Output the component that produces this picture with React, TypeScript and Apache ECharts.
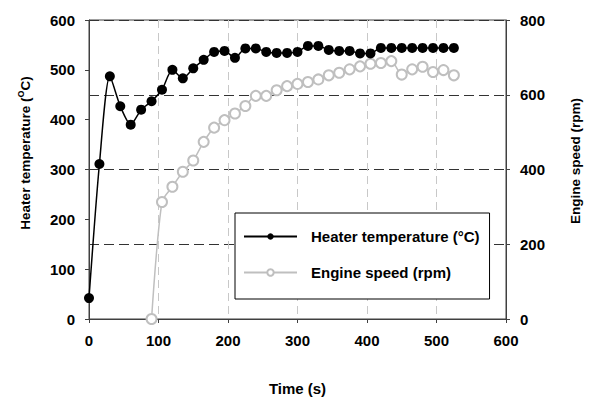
import React, { useEffect, useRef } from "react";
import * as echarts from "echarts";

const tempTimes = [0, 15, 30, 45, 60, 75, 90, 105, 120, 135, 150, 165, 180, 195, 210, 225, 240, 255, 270, 285, 300, 315, 330, 345, 360, 375, 390, 405, 420, 435, 450, 465, 480, 495, 510, 525];
const heaterTemp = [42, 311, 487, 427, 390, 420, 437, 460, 500, 483, 503, 520, 536, 538, 524, 543, 543, 536, 534, 534, 536, 548, 548, 540, 538, 538, 533, 533, 544, 544, 544, 544, 544, 544, 544, 544];
const speedTimes = [90, 105, 120, 135, 150, 165, 180, 195, 210, 225, 240, 255, 270, 285, 300, 315, 330, 345, 360, 375, 390, 405, 420, 435, 450, 465, 480, 495, 510, 525];
const engineSpeed = [0, 313, 354, 394, 424, 474, 512, 532, 550, 570, 597, 597, 612, 623, 629, 634, 641, 652, 659, 668, 676, 683, 685, 690, 654, 668, 675, 661, 666, 652];

const FONT = "'Liberation Sans', Arial, sans-serif";
const GREY = "#bfbfbf";

export default function App() {
  const ref = useRef<HTMLDivElement>(null);
  useEffect(() => {
    if (!ref.current) return;
    const chart = echarts.init(ref.current, null, { renderer: "svg" });
    const labelStyle = { color: "#000", fontSize: 15, fontWeight: "bold" as const, fontFamily: FONT };
    chart.setOption({
      animation: false,
      grid: { left: 89, right: 84, top: 20, bottom: 80, show: true, borderColor: "#404040", borderWidth: 1 },
      legend: {
        orient: "vertical",
        left: 235,
        top: 213,
        padding: [16, 10, 19, 8],
        itemGap: 21,
        itemWidth: 53,
        itemHeight: 8,
        backgroundColor: "#fff",
        borderColor: "#000",
        borderWidth: 1,
        textStyle: { ...labelStyle, padding: [0, 0, 0, 9] },
        data: ["Heater temperature (°C)", "Engine speed (rpm)"],
      },
      xAxis: {
        type: "value",
        min: 0,
        max: 600,
        interval: 100,
        name: "Time (s)",
        nameLocation: "middle",
        nameGap: 62,
        nameTextStyle: labelStyle,
        axisLine: { lineStyle: { color: "#404040" } },
        axisTick: { show: true, length: 4, lineStyle: { color: "#404040" } },
        axisLabel: { ...labelStyle, margin: 14 },
        splitLine: { show: true, lineStyle: { color: "#c8c8c8", type: [8, 5] } },
      },
      yAxis: [
        {
          type: "value",
          min: 0,
          max: 600,
          interval: 100,
          position: "left",
          axisLine: { show: true, lineStyle: { color: "#404040" } },
          axisTick: { show: true, length: 4, lineStyle: { color: "#404040" } },
          axisLabel: { ...labelStyle, margin: 14 },
          splitLine: { show: false },
        },
        {
          type: "value",
          min: 0,
          max: 800,
          interval: 200,
          position: "right",
          axisLine: { show: true, lineStyle: { color: "#404040" } },
          axisTick: { show: true, length: 4, lineStyle: { color: "#404040" } },
          axisLabel: { ...labelStyle, margin: 14 },
          splitLine: { show: true, lineStyle: { color: "#333", type: [10, 5] } },
        },
      ],
      graphic: [
        {
          type: "text",
          x: 25,
          y: 153,
          rotation: Math.PI / 2,
          style: {
            text: "{a|Heater temperature (}{s|O}{a|C)}",
            align: "center",
            verticalAlign: "middle",
            rich: {
              a: { fontSize: 13.5, fontWeight: "bold", fontFamily: FONT, fill: "#000" },
              s: { fontSize: 9, fontWeight: "bold", fontFamily: FONT, fill: "#000", padding: [0, 0, 8, 0] },
            },
          },
        },
        {
          type: "text",
          x: 575,
          y: 161,
          rotation: Math.PI / 2,
          style: {
            text: "Engine speed (rpm)",
            align: "center",
            verticalAlign: "middle",
            fontSize: 13.5,
            fontWeight: "bold",
            fontFamily: FONT,
            fill: "#000",
          },
        },
      ],
      series: [
        {
          name: "Engine speed (rpm)",
          type: "line",
          yAxisIndex: 1,
          smooth: 0.25,
          data: speedTimes.map((t, i) => [t, engineSpeed[i]]),
          symbol: "emptyCircle",
          symbolSize: 10,
          lineStyle: { color: GREY, width: 1.5 },
          itemStyle: { color: GREY, borderWidth: 1.8 },
          z: 2,
        },
        {
          name: "Heater temperature (°C)",
          type: "line",
          yAxisIndex: 0,
          smooth: 0.25,
          data: tempTimes.map((t, i) => [t, heaterTemp[i]]),
          symbol: "circle",
          symbolSize: 10,
          lineStyle: { color: "#000", width: 1.5 },
          itemStyle: { color: "#000" },
          z: 3,
        },
      ],
    });
    return () => chart.dispose();
  }, []);
  return <div ref={ref} style={{ position: "fixed", left: 0, top: 0, width: 590, height: 401, background: "#fff" }} />;
}
